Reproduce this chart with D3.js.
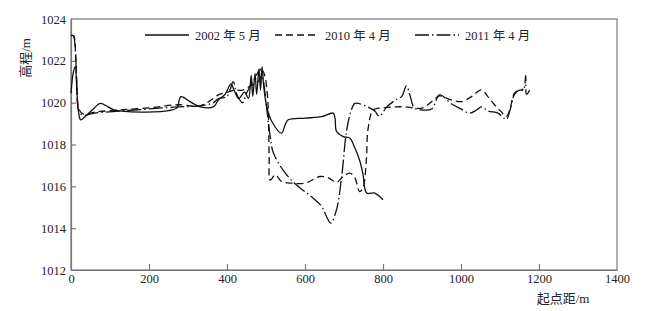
<!DOCTYPE html>
<html>
<head>
<meta charset="utf-8">
<script src="https://cdn.jsdelivr.net/npm/d3@7"></script>
<style>
  body { margin: 0; background: #fff; }
  text { font-family: "Liberation Serif", "DejaVu Serif", "Noto Sans CJK SC", serif; fill: #222; }
</style>
</head>
<body>
<div id="chart"></div>
<script>
// survey distance (m) and bed elevation (m) for each cross-section
const dist2002 = [0, 6, 11, 15, 19, 25, 40, 60, 75, 95, 110, 130, 180, 230, 250, 271, 282, 305, 331, 365, 378, 395, 410, 418, 430, 445, 455, 462, 466, 472, 476, 482, 486, 490, 494, 502, 515, 540, 549, 557, 600, 643, 672, 677, 681, 698, 715, 728, 741, 749, 758, 779, 792, 800];
const elev2002 = [1020.45, 1021.45, 1021.72, 1020.55, 1019.6, 1019.18, 1019.4, 1019.75, 1019.97, 1019.8, 1019.65, 1019.6, 1019.55, 1019.57, 1019.62, 1019.74, 1020.29, 1020.05, 1019.8, 1019.8, 1020.13, 1020.4, 1020.9, 1020.6, 1020.2, 1020.5, 1020.2, 1021.3, 1020.3, 1021.4, 1020.4, 1021.6, 1020.6, 1021.72, 1020.8, 1019.8, 1019.1, 1018.54, 1018.94, 1019.18, 1019.26, 1019.33, 1019.5, 1019.26, 1018.62, 1018.38, 1018.3, 1017.83, 1017.19, 1016.55, 1015.68, 1015.68, 1015.5, 1015.36];

const dist2010 = [0, 7, 12, 16, 20, 32, 60, 126, 200, 275, 331, 365, 378, 400, 420, 440, 460, 480, 492, 498, 505, 508, 511, 524, 540, 566, 600, 639, 660, 681, 698, 715, 728, 740, 749, 757, 762, 775, 800, 832, 857, 900, 925, 945, 975, 1001, 1027, 1052, 1069, 1086, 1103, 1116, 1125, 1137, 1150, 1160];
const elev2010 = [1023.2, 1023.2, 1022.2, 1020.5, 1019.7, 1019.45, 1019.55, 1019.65, 1019.75, 1019.9, 1019.85, 1020.2, 1020.37, 1020.5, 1020.6, 1020.6, 1020.8, 1021.0, 1021.5, 1021.2, 1020.0, 1017.5, 1016.3, 1016.55, 1016.23, 1016.15, 1016.15, 1016.47, 1016.4, 1016.2, 1016.47, 1016.63, 1016.4, 1015.75, 1015.95, 1017.19, 1018.78, 1019.65, 1019.75, 1019.8, 1019.8, 1019.74, 1020.05, 1020.32, 1020.13, 1020.05, 1020.29, 1020.61, 1020.29, 1019.9, 1019.57, 1019.33, 1019.65, 1020.45, 1020.6, 1020.65];

const dist2011 = [0, 6, 11, 15, 20, 30, 60, 126, 200, 275, 331, 365, 378, 400, 416, 425, 440, 450, 463, 475, 485, 492, 500, 510, 519, 549, 582, 617, 643, 655, 666, 681, 694, 707, 719, 728, 754, 779, 790, 810, 830, 848, 860, 870, 880, 900, 925, 945, 975, 1000, 1022, 1040, 1052, 1070, 1095, 1116, 1125, 1137, 1150, 1160, 1166, 1168, 1176];
const elev2011 = [1023.2, 1023.2, 1022.5, 1020.8, 1019.6, 1019.4, 1019.5, 1019.6, 1019.7, 1019.8, 1019.85, 1020.0, 1020.2, 1020.3, 1021.0, 1020.4, 1020.0, 1020.45, 1020.9, 1021.3, 1021.6, 1021.2, 1020.0, 1018.5, 1017.6, 1016.64, 1016.0, 1015.5, 1015.03, 1014.56, 1014.24, 1014.9, 1016.47, 1018.7, 1019.65, 1019.97, 1019.85, 1019.6, 1019.35, 1019.8, 1020.1, 1020.3, 1020.8, 1020.3, 1019.75, 1019.65, 1019.7, 1020.37, 1019.95, 1019.7, 1019.5, 1019.65, 1019.8, 1019.6, 1019.5, 1019.2, 1019.6, 1020.4, 1020.6, 1020.6, 1021.3, 1020.4, 1020.6];

const xTicks = [0, 200, 400, 600, 800, 1000, 1200, 1400];
const yTicks = [1012, 1014, 1016, 1018, 1020, 1022, 1024];
const seriesNames = ["2002 年 5 月", "2010 年 4 月", "2011 年 4 月"];

// set the dimensions and margins of the graph
let margin = {top: 19, right: 31, bottom: 41, left: 71},
    width = 648 - margin.left - margin.right,
    height = 311 - margin.top - margin.bottom;

let svgRoot = d3.select("#chart")
  .append("svg")
    .attr("width", 648)
    .attr("height", 311);

let svg = svgRoot.append("g")
    .attr("transform", "translate(" + margin.left + "," + margin.top + ")");

let x = d3.scaleLinear().domain([0, 1400]).range([0, width]);
let y = d3.scaleLinear().domain([1012, 1024]).range([height, 0]);

// frame
svg.append("rect")
    .attr("width", width)
    .attr("height", height)
    .attr("fill", "none")
    .attr("stroke", "#777")
    .attr("stroke-width", 1.2);

// axes with inward ticks, plain numbers (no thousands separator)
let xAxis = svg.append("g")
    .attr("transform", "translate(0," + height + ")")
    .call(d3.axisBottom(x).tickValues(xTicks).tickFormat(d3.format("d"))
      .tickSizeInner(-6).tickSizeOuter(0).tickPadding(4));
let yAxis = svg.append("g")
    .call(d3.axisLeft(y).tickValues(yTicks).tickFormat(d3.format("d"))
      .tickSizeInner(-5).tickSizeOuter(0).tickPadding(5));

[xAxis, yAxis].forEach(function(a) {
  a.select(".domain").attr("stroke", "#777").attr("stroke-width", 1.2);
  a.selectAll(".tick line").attr("stroke", "#777").attr("stroke-width", 1.2);
  a.selectAll(".tick text")
    .style("font-family", '"Liberation Serif", "DejaVu Serif", serif')
    .style("font-size", "12.5px")
    .attr("fill", "#222");
});
// hide ticks that sit on the frame corners
xAxis.selectAll(".tick").filter(function(d) { return d === 0 || d === 1400; }).select("line").remove();
yAxis.selectAll(".tick").filter(function(d) { return d === 1012 || d === 1024; }).select("line").remove();

// axis titles
svgRoot.append("text")
    .attr("x", 563)
    .attr("y", 303)
    .attr("text-anchor", "middle")
    .attr("fill", "#222")
    .style("font-size", "13px")
    .text("起点距/m");

svgRoot.append("text")
    .attr("transform", "translate(30,58) rotate(-90)")
    .attr("text-anchor", "middle")
    .attr("fill", "#222")
    .style("font-size", "13px")
    .text("高程/m");

// profile lines
let line = d3.line()
    .x(function(d) { return x(d[0]); })
    .y(function(d) { return y(d[1]); })
    .curve(d3.curveCatmullRom.alpha(0.5));

let series = [
  { name: seriesNames[0], xs: dist2002, ys: elev2002, dash: null },
  { name: seriesNames[1], xs: dist2010, ys: elev2010, dash: "7,4" },
  { name: seriesNames[2], xs: dist2011, ys: elev2011, dash: "14,3,1.5,3" }
];

svg.selectAll("path.profile")
    .data(series)
    .enter()
    .append("path")
      .attr("class", "profile")
      .attr("d", function(s) { return line(s.xs.map(function(v, i) { return [v, s.ys[i]]; })); })
      .attr("fill", "none")
      .attr("stroke", "#111")
      .attr("stroke-width", 1.3)
      .attr("stroke-dasharray", function(s) { return s.dash; });

// legend
let legendX = [74, 204, 344];
let legend = svg.selectAll("g.legend")
    .data(series)
    .enter()
    .append("g")
      .attr("class", "legend")
      .attr("transform", function(s, i) { return "translate(" + legendX[i] + ",16)"; });

legend.append("line")
    .attr("x1", 0)
    .attr("x2", 44)
    .attr("stroke", "#111")
    .attr("stroke-width", 1.3)
    .attr("stroke-dasharray", function(s) { return s.dash; });

legend.append("text")
    .attr("x", 50)
    .attr("y", 4.5)
    .attr("fill", "#222")
    .style("font-size", "12.5px")
    .text(function(s) { return s.name; });
</script>
</body>
</html>
